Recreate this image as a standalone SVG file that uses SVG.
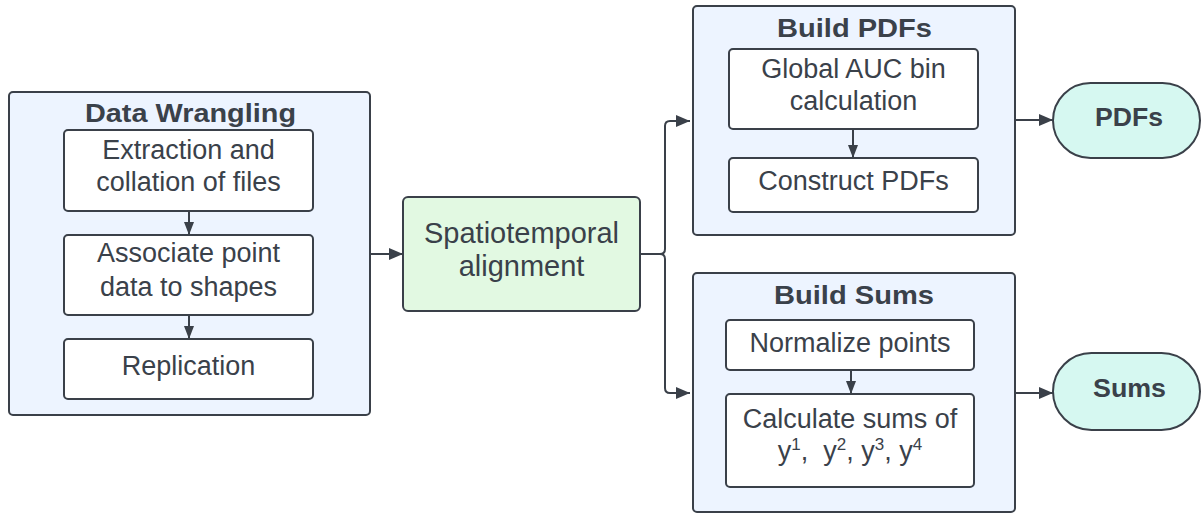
<svg xmlns="http://www.w3.org/2000/svg" width="1201" height="513" viewBox="0 0 1201 513">
<style>
.container{fill:#edf4ff;stroke:#3a4049;stroke-width:2}
.box{fill:#ffffff;stroke:#3a4049;stroke-width:2}
.green{fill:#e2f9e2;stroke:#3a4049;stroke-width:2}
.pill{fill:#d6f8f1;stroke:#3a4049;stroke-width:2}
.t{font-family:"Liberation Sans",Arial,sans-serif;font-size:27px;fill:#3a414a;text-anchor:middle}
.big{font-size:29px}
.title{font-family:"Liberation Sans",Arial,sans-serif;font-size:26px;font-weight:bold;fill:#3a414a;text-anchor:middle}
.conn{fill:none;stroke:#3a4049;stroke-width:2}
</style>
<defs>
<marker id="ah" viewBox="0 0 14 12" refX="14" refY="6" markerWidth="14" markerHeight="12" markerUnits="userSpaceOnUse" orient="auto">
<path d="M0,0 L14,6 L0,12 Z" fill="#3a4049"/>
</marker>
<marker id="ahs" viewBox="0 0 13 10" refX="13" refY="5" markerWidth="13" markerHeight="10" markerUnits="userSpaceOnUse" orient="auto">
<path d="M0,0 L13,5 L0,10 Z" fill="#3a4049"/>
</marker>
</defs>

<g id="data-wrangling">
<rect class="container" x="9" y="92" width="361" height="323" rx="4"/>
<text class="title" x="190.5" y="122" textLength="211" lengthAdjust="spacingAndGlyphs">Data Wrangling</text>
</g>
<g id="extraction">
<rect class="box" x="64" y="130" width="249" height="81" rx="4"/>
<text class="t" x="188.5" y="159">Extraction and</text>
<text class="t" x="188.5" y="191">collation of files</text>
</g>
<g id="associate">
<rect class="box" x="64" y="235" width="249" height="80" rx="4"/>
<text class="t" x="188.5" y="262">Associate point</text>
<text class="t" x="188.5" y="296">data to shapes</text>
</g>
<g id="replication">
<rect class="box" x="64" y="339" width="249" height="60" rx="4"/>
<text class="t" x="188.5" y="375">Replication</text>
</g>

<g id="spatiotemporal">
<rect class="green" x="403" y="197" width="237" height="114" rx="5"/>
<text class="t big" x="521.5" y="243">Spatiotemporal</text>
<text class="t big" x="521.5" y="276">alignment</text>
</g>

<g id="build-pdfs">
<rect class="container" x="693" y="6" width="322" height="229" rx="4"/>
<text class="title" x="854.5" y="37" textLength="155" lengthAdjust="spacingAndGlyphs">Build PDFs</text>
</g>
<g id="global-auc">
<rect class="box" x="729" y="49" width="249" height="80" rx="4"/>
<text class="t" x="853.5" y="78">Global AUC bin</text>
<text class="t" x="853.5" y="110">calculation</text>
</g>
<g id="construct-pdfs">
<rect class="box" x="729" y="158" width="249" height="54" rx="4"/>
<text class="t" x="853.5" y="190">Construct PDFs</text>
</g>
<g id="pdfs">
<rect class="pill" x="1053" y="83" width="147" height="75" rx="37.5"/>
<text class="title" x="1129" y="126" textLength="68" lengthAdjust="spacingAndGlyphs">PDFs</text>
</g>

<g id="build-sums">
<rect class="container" x="693" y="273" width="322" height="239" rx="4"/>
<text class="title" x="854" y="304" textLength="160" lengthAdjust="spacingAndGlyphs">Build Sums</text>
</g>
<g id="normalize">
<rect class="box" x="726" y="320" width="248" height="50" rx="4"/>
<text class="t" x="850" y="352">Normalize points</text>
</g>
<g id="calculate-sums">
<rect class="box" x="726" y="394" width="248" height="93" rx="4"/>
<text class="t" x="850" y="428">Calculate sums of</text>
<text class="t" x="850" y="460" style="white-space:pre">y<tspan font-size="17" dy="-10">1</tspan><tspan dy="10">,  y</tspan><tspan font-size="17" dy="-10">2</tspan><tspan dy="10">, y</tspan><tspan font-size="17" dy="-10">3</tspan><tspan dy="10">, y</tspan><tspan font-size="17" dy="-10">4</tspan></text>
</g>
<g id="sums">
<rect class="pill" x="1053" y="353" width="147" height="77" rx="38.5"/>
<text class="title" x="1129.5" y="397" textLength="73" lengthAdjust="spacingAndGlyphs">Sums</text>
</g>

<g id="connectors">
<path class="conn" d="M189,211 L189,235" marker-end="url(#ahs)"/>
<path class="conn" d="M189,315 L189,339" marker-end="url(#ahs)"/>
<path class="conn" d="M370,254 L403,254" marker-end="url(#ah)"/>
<path class="conn" d="M640,254 L660,254 Q665,254 665,249 L665,126 Q665,121 670,121 L690,121" marker-end="url(#ah)"/>
<path class="conn" d="M660,254 Q665,254 665,259 L665,388 Q665,393 670,393 L690,393" marker-end="url(#ah)"/>
<path class="conn" d="M853,129 L853,158" marker-end="url(#ahs)"/>
<path class="conn" d="M851,370 L851,394" marker-end="url(#ahs)"/>
<path class="conn" d="M1015,120 L1053,120" marker-end="url(#ah)"/>
<path class="conn" d="M1015,393 L1053,393" marker-end="url(#ah)"/>
</g>
</svg>
